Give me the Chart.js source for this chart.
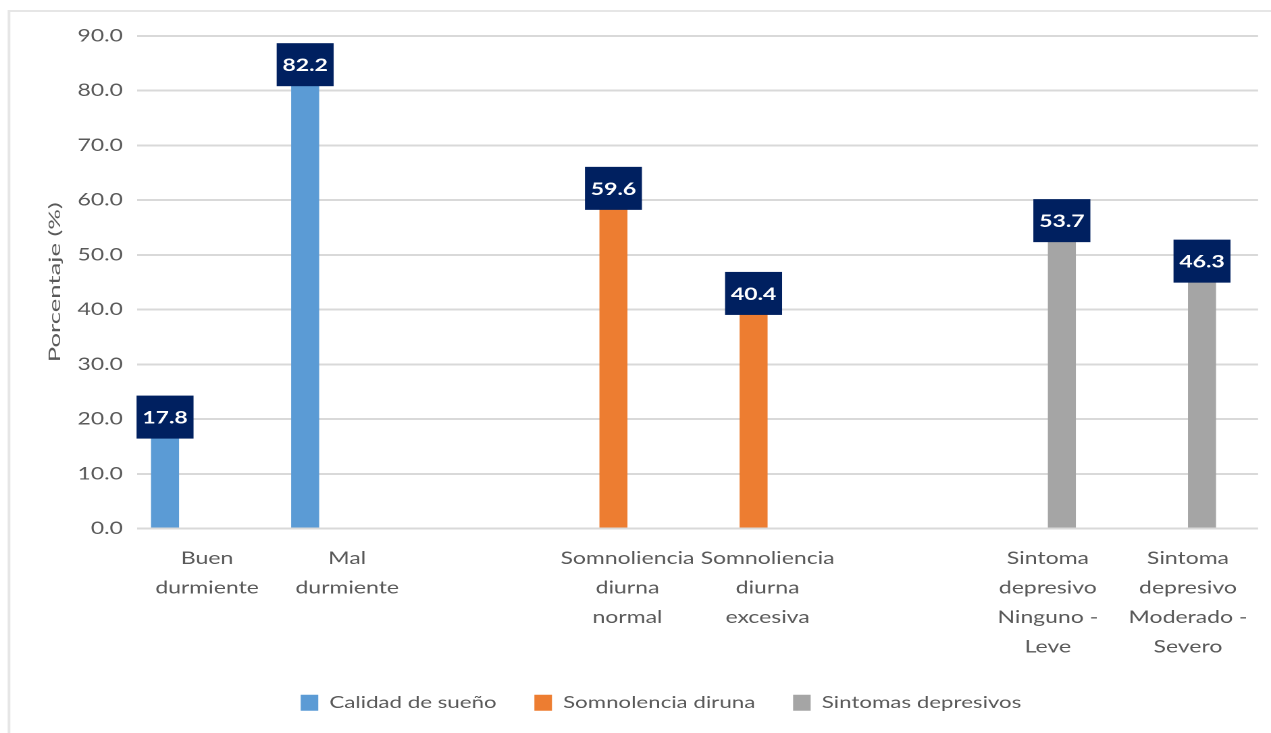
<!DOCTYPE html>
<html>
<head>
<meta charset="utf-8">
<title>Calidad de sueño, somnolencia y síntomas depresivos</title>
<script src="https://cdn.jsdelivr.net/npm/chart.js@4"></script>
<style>
    html, body { margin: 0; padding: 0; background: #ffffff; overflow: hidden; scrollbar-width: none; }
    ::-webkit-scrollbar { display: none; width: 0; height: 0; }
    .wrap { position: absolute; left: 0; top: 0; width: 1271px; height: 733px; overflow: hidden; }
    #chart { position: absolute; left: 0; top: 0; transform: scaleX(1.3507); transform-origin: 0 0; }
</style>
</head>
<body>
<div class="wrap"><canvas id="chart" width="941" height="733"></canvas></div>
<script>
// categories (blank slots separate the three groups, as in the original)
const categories = [
    ['Buen', 'durmiente'],
    ['Mal', 'durmiente'],
    '',
    ['Somnoliencia', 'diurna', 'normal'],
    ['Somnoliencia', 'diurna', 'excesiva'],
    '',
    ['Sintoma', 'depresivo', 'Ninguno -', 'Leve'],
    ['Sintoma', 'depresivo', 'Moderado -', 'Severo']
];

const calidadSueno = [17.8, 82.2, null, null, null, null, null, null];
const somnolencia = [null, null, null, 59.6, 40.4, null, null, null];
const sintomas = [null, null, null, null, null, null, 53.7, 46.3];
const emptySeries = [null, null, null, null, null, null, null, null]; // 4th (empty) series of the workbook

const yTicks = { min: 0, max: 90, step: 10 };
const yTitle = 'Porcentaje (%)';

const S = 1.3507; // horizontal stretch of the reference picture
const TEXT = '#595959';

// light outline of the chart box (left and top edges only are in view)
const frame = {
    id: 'frame',
    beforeDraw(chart) {
        const ctx = chart.ctx;
        ctx.save();
        ctx.strokeStyle = '#e6e6e6';
        ctx.lineWidth = 2;
        ctx.beginPath();
        ctx.moveTo(9 / S, chart.height);
        ctx.lineTo(9 / S, 11);
        ctx.lineTo(chart.width, 11);
        ctx.stroke();
        ctx.restore();
    }
};

const valueBoxes = {
    id: 'valueBoxes',
    afterDatasetsDraw(chart) {
        const ctx = chart.ctx;
        ctx.save();
        chart.data.datasets.forEach((ds, i) => {
            const meta = chart.getDatasetMeta(i);
            meta.data.forEach((bar, j) => {
                const v = ds.data[j];
                if (v === null || v === undefined) return;
                const w = 57 / S, h = 43;
                const cy = bar.y - 14;
                ctx.fillStyle = '#002060';
                ctx.fillRect(bar.x - w / 2, cy - h / 2, w, h);
                ctx.fillStyle = '#ffffff';
                ctx.font = 'bold 17px Lato';
                ctx.textAlign = 'center';
                ctx.textBaseline = 'middle';
                ctx.fillText(v.toFixed(1), bar.x, cy + 1);
            });
        });
        ctx.restore();
    }
};

// rotated axis title, drawn so it keeps the reference's proportions after the stretch
const axisTitle = {
    id: 'axisTitle',
    afterDraw(chart) {
        const ctx = chart.ctx;
        const area = chart.chartArea;
        ctx.save();
        ctx.translate(55 / S, (area.top + area.bottom) / 2);
        ctx.rotate(-Math.PI / 2);
        ctx.scale(1.6, 1 / S);
        ctx.fillStyle = TEXT;
        ctx.font = '16px Lato';
        ctx.textAlign = 'center';
        ctx.textBaseline = 'middle';
        ctx.fillText(yTitle, 0, 0);
        ctx.restore();
    }
};

new Chart(document.getElementById('chart'), {
    type: 'bar',
    data: {
        labels: categories,
        datasets: [
            { label: 'Calidad de sueño', data: calidadSueno, backgroundColor: '#5B9BD5' },
            { label: 'Somnolencia diruna', data: somnolencia, backgroundColor: '#ED7D31' },
            { label: 'Sintomas depresivos', data: sintomas, backgroundColor: '#A5A5A5' },
            { label: '', data: emptySeries, backgroundColor: '#FFC000' }
        ]
    },
    options: {
        responsive: false,
        animation: false,
        devicePixelRatio: 2,
        categoryPercentage: 0.8,
        barPercentage: 1.0,
        layout: { padding: { left: 47.4, right: 9.6, top: 36, bottom: 12 } },
        scales: {
            x: {
                grid: { display: false },
                border: { display: false },
                ticks: {
                    color: TEXT,
                    padding: 7,
                    maxRotation: 0,
                    autoSkip: false,
                    font: { family: 'Lato', size: 17, lineHeight: 1.74 }
                },
                afterFit(scale) { scale.height = 138; }
            },
            y: {
                min: yTicks.min,
                max: yTicks.max,
                border: { display: false },
                grid: { color: '#d9d9d9', lineWidth: 2, drawTicks: false },
                ticks: {
                    stepSize: yTicks.step,
                    color: TEXT,
                    padding: 10.4,
                    font: { family: 'Lato', size: 17 },
                    callback: v => Number(v).toFixed(1)
                },
                afterFit(scale) { scale.width = 137 / S - 47.4; }
            }
        },
        plugins: {
            legend: {
                position: 'bottom',
                labels: {
                    color: TEXT,
                    boxWidth: 13,
                    boxHeight: 16,
                    padding: 28,
                    font: { family: 'Lato', size: 16.5 },
                    filter: item => item.text !== ''
                }
            },
            tooltip: { enabled: false }
        }
    },
    plugins: [frame, valueBoxes, axisTitle]
});
</script>
</body>
</html>
